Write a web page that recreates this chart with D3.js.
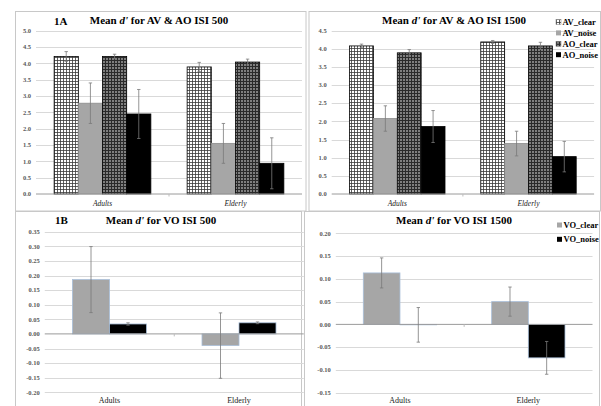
<!DOCTYPE html>
<html>
<head>
<meta charset="utf-8">
<script src="https://cdn.jsdelivr.net/npm/d3@7"></script>
<style>
  body { margin: 0; background: #fff; }
  svg { display: block; }
  text { font-family: "Liberation Serif", "Times New Roman", serif; }
  .tick-label { font-size: 6.5px; font-weight: bold; fill: #595959; }
  .title { font-size: 11px; font-weight: bold; fill: #000; }
  .legend-label { font-size: 8.5px; font-weight: bold; fill: #000; }
</style>
</head>
<body>
<svg id="chart" width="601" height="406"></svg>
<script>
// ---- data ----
var groups = ['Adults', 'Elderly'];
var av_series = ['AV_clear', 'AV_noise', 'AO_clear', 'AO_noise'];
var vo_series = ['VO_clear', 'VO_noise'];

// rows = groups, columns = series
var av500_means = [[4.21, 2.78, 4.21, 2.45], [3.89, 1.55, 4.04, 0.94]];
var av500_err   = [[0.15, 0.62, 0.07, 0.75], [0.14, 0.61, 0.09, 0.78]];
var av1500_means = [[4.08, 2.08, 3.89, 1.86], [4.19, 1.39, 4.08, 1.03]];
var av1500_err   = [[0.05, 0.35, 0.09, 0.44], [0.04, 0.34, 0.10, 0.42]];
var vo500_means = [[0.186, 0.034], [-0.040, 0.038]];
var vo500_err   = [[0.113, 0.004], [0.112, 0.003]];
var vo1500_means = [[0.113, -0.001], [0.050, -0.0735]];
var vo1500_err   = [[0.033, 0.038], [0.032, 0.036]];

var av500_ticks = [0, 0.5, 1, 1.5, 2, 2.5, 3, 3.5, 4, 4.5, 5];
var av1500_ticks = [0, 0.5, 1, 1.5, 2, 2.5, 3, 3.5, 4, 4.5];
var vo500_ticks = [-0.2, -0.15, -0.1, -0.05, 0, 0.05, 0.1, 0.15, 0.2, 0.25, 0.3, 0.35];
var vo1500_ticks = [-0.15, -0.1, -0.05, 0, 0.05, 0.1, 0.15, 0.2];

var svg = d3.select('#chart');
var defs = svg.append('defs');

// small grid (white with dark lines)
var p1 = defs.append('pattern').attr('id', 'grid-light')
  .attr('patternUnits', 'userSpaceOnUse').attr('width', 3).attr('height', 3);
p1.append('rect').attr('width', 3).attr('height', 3).attr('fill', '#fff');
p1.append('rect').attr('width', 3).attr('height', 0.8).attr('fill', '#3a3a3a');
p1.append('rect').attr('width', 0.8).attr('height', 3).attr('fill', '#3a3a3a');

// dark grid (dark with small light holes)
var p2 = defs.append('pattern').attr('id', 'grid-dark')
  .attr('patternUnits', 'userSpaceOnUse').attr('width', 3).attr('height', 3);
p2.append('rect').attr('width', 3).attr('height', 3).attr('fill', '#2a2a2a');
p2.append('rect').attr('x', 1.3).attr('y', 1.3).attr('width', 1.4).attr('height', 1.4).attr('fill', '#d8d8d8');

var fills = {
  AV_clear: 'url(#grid-light)', AV_noise: '#a6a6a6',
  AO_clear: 'url(#grid-dark)', AO_noise: '#000',
  VO_clear: '#a6a6a6', VO_noise: '#000'
};
var strokes = {
  AV_clear: '#000', AV_noise: '#8c8c8c', AO_clear: '#000', AO_noise: '#000',
  VO_clear: '#a9bfd9', VO_noise: '#a9bfd9'
};

var panels = [
  {box: [15.5, 11.5, 306, 211], plot: [36, 302, 30.7, 194], domain: [0, 5], ticks: av500_ticks, fmt: '.1f',
   series: av_series, means: av500_means, err: av500_err, italic: true, cat_y: 206,
   title: ['Mean ', "d'", ' for AV & AO ISI 500'], title_x: 159, title_y: 24, tag: '1A', tag_x: 54, tag_y: 25, legend: null},
  {box: [309, 11.5, 600.5, 211], plot: [331.7, 594.1, 30.7, 194], domain: [0, 4.5], ticks: av1500_ticks, fmt: '.1f',
   series: av_series, means: av1500_means, err: av1500_err, italic: true, cat_y: 206,
   title: ['Mean ', "d'", ' for AV & AO ISI 1500'], title_x: 454, title_y: 23.5, tag: null,
   legend: {x: 556, y: 22, dy: 10.9}},
  {box: [15.5, 211.5, 301.5, 420], plot: [44.75, 303.75, 231.7, 392.3], domain: [-0.2, 0.35], ticks: vo500_ticks, fmt: '.2f',
   series: vo_series, means: vo500_means, err: vo500_err, italic: false, cat_y: 403,
   title: ['Mean ', "d'", ' for VO ISI 500'], title_x: 161, title_y: 224, tag: '1B', tag_x: 55, tag_y: 224, legend: null},
  {box: [304.5, 211.5, 599.5, 420], plot: [335.8, 592.5, 233.3, 392.7], domain: [-0.15, 0.2], ticks: vo1500_ticks, fmt: '.2f',
   series: vo_series, means: vo1500_means, err: vo1500_err, italic: false, cat_y: 403,
   title: ['Mean ', "d'", ' for VO ISI 1500'], title_x: 454, title_y: 223.5, tag: null,
   legend: {x: 557, y: 225, dy: 14.3}}
];

panels.forEach(function(P) {
  var g = svg.append('g');
  var left = P.plot[0], right = P.plot[1], top = P.plot[2], bottom = P.plot[3];

  // panel border
  g.append('rect')
    .attr('x', P.box[0]).attr('y', P.box[1])
    .attr('width', P.box[2] - P.box[0]).attr('height', P.box[3] - P.box[1])
    .attr('fill', 'none').attr('stroke', '#c8c8c8').attr('stroke-width', 1);

  var n = P.series.length;
  var pad = 1.5 / (n + 1.5);
  var x0 = d3.scaleBand().domain(groups).range([left, right]).paddingInner(pad).paddingOuter(pad / 2);
  var x1 = d3.scaleBand().domain(P.series).range([0, x0.bandwidth()]);
  var y = d3.scaleLinear().domain(P.domain).range([bottom, top]);

  // gridlines
  g.append('g').selectAll('line').data(P.ticks).enter().append('line')
    .attr('x1', left).attr('x2', right)
    .attr('y1', function(d) { return Math.round(y(d)) + 0.5; })
    .attr('y2', function(d) { return Math.round(y(d)) + 0.5; })
    .attr('stroke', function(d) { return d == 0 ? 'none' : '#d9d9d9'; })
    .attr('stroke-width', 1);

  // y tick labels
  g.append('g').selectAll('text').data(P.ticks).enter().append('text')
    .attr('class', 'tick-label')
    .attr('x', left - 5)
    .attr('y', function(d) { return y(d) + 2.2; })
    .attr('text-anchor', 'end')
    .text(function(d) { return d3.format(P.fmt)(d).replace('−', '-'); });

  // bars
  var rows = [];
  groups.forEach(function(grp, gi) {
    P.series.forEach(function(s, si) {
      rows.push({group: grp, series: s, mean: P.means[gi][si], err: P.err[gi][si]});
    });
  });

  g.append('g').selectAll('rect').data(rows).enter().append('rect')
    .attr('x', function(d) { return x0(d.group) + x1(d.series); })
    .attr('width', x1.bandwidth())
    .attr('y', function(d) { return y(Math.max(0, d.mean)); })
    .attr('height', function(d) { return Math.abs(y(d.mean) - y(0)); })
    .attr('fill', function(d) { return fills[d.series]; })
    .attr('stroke', function(d) { return strokes[d.series]; })
    .attr('stroke-width', 0.8);

  // zero axis
  g.append('line')
    .attr('x1', left).attr('x2', right)
    .attr('y1', y(0)).attr('y2', y(0))
    .attr('stroke', '#9a9a9a').attr('stroke-width', 1);
  g.append('line')
    .attr('x1', (left + right) / 2).attr('x2', (left + right) / 2)
    .attr('y1', y(0)).attr('y2', y(0) + 2.5)
    .attr('stroke', '#bdbdbd').attr('stroke-width', 1);

  // error bars
  var eb = g.append('g').attr('stroke', '#7a7a7a').attr('stroke-width', 0.8);
  rows.forEach(function(d) {
    var cx = x0(d.group) + x1(d.series) + x1.bandwidth() / 2;
    eb.append('line').attr('x1', cx).attr('x2', cx)
      .attr('y1', y(d.mean + d.err)).attr('y2', y(d.mean - d.err));
    [d.mean + d.err, d.mean - d.err].forEach(function(v) {
      eb.append('line').attr('x1', cx - 1.7).attr('x2', cx + 1.7)
        .attr('y1', y(v)).attr('y2', y(v));
    });
  });

  // category labels
  g.append('g').selectAll('text').data(groups).enter().append('text')
    .attr('x', function(d) { return x0(d) + x0.bandwidth() / 2; })
    .attr('y', P.cat_y)
    .attr('text-anchor', 'middle')
    .attr('font-size', P.italic ? 7.5 : 8)
    .attr('font-style', P.italic ? 'italic' : 'normal')
    .attr('fill', '#222')
    .text(function(d) { return d; });

  // title
  var t = g.append('text').attr('class', 'title')
    .attr('x', P.title_x).attr('y', P.title_y).attr('text-anchor', 'middle');
  t.append('tspan').text(P.title[0]);
  t.append('tspan').attr('font-style', 'italic').text(P.title[1]);
  t.append('tspan').text(P.title[2]);

  if (P.tag) {
    g.append('text').attr('class', 'title').attr('font-size', 8)
      .attr('x', P.tag_x).attr('y', P.tag_y).text(P.tag);
  }

  // legend
  if (P.legend) {
    var lg = g.append('g').selectAll('g').data(P.series).enter().append('g')
      .attr('transform', function(d, i) { return 'translate(' + P.legend.x + ',' + (P.legend.y + i * P.legend.dy) + ')'; });
    lg.append('rect').attr('x', 0).attr('y', -2.5).attr('width', 5).attr('height', 5)
      .attr('fill', function(d) { return fills[d]; })
      .attr('stroke', function(d) { return d.indexOf('clear') > 0 && d[0] == 'A' ? '#777' : 'none'; })
      .attr('stroke-width', 0.5);
    lg.append('text').attr('class', 'legend-label')
      .attr('x', 6.5).attr('y', 3)
      .text(function(d) { return d; });
  }
});
</script>
</body>
</html>
